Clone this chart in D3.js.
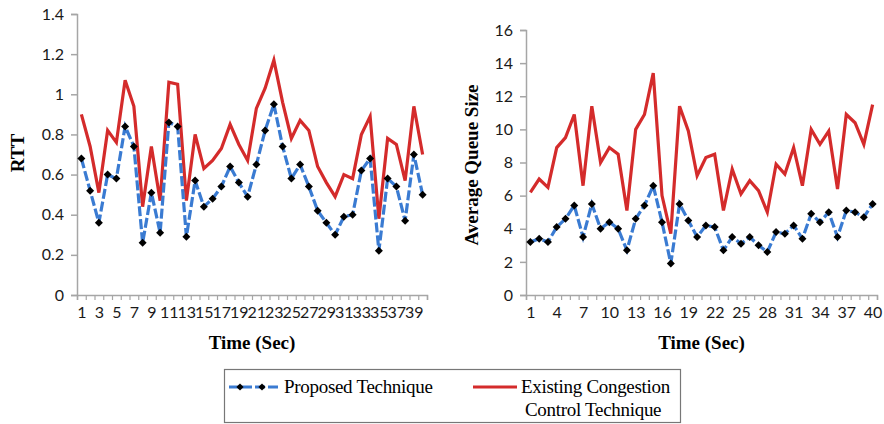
<!DOCTYPE html>
<html>
<head>
<meta charset="utf-8">
<script src="https://cdn.jsdelivr.net/npm/d3@7"></script>
<style>
    body { margin: 0; background: #fff; }
</style>
</head>
<body>
<div id="chart"></div>
<script>
// Dati
const times = d3.range(1, 41);
const rttProposed = [0.68, 0.52, 0.36, 0.60, 0.58, 0.84, 0.74, 0.26, 0.51, 0.31,
    0.86, 0.84, 0.29, 0.57, 0.44, 0.48, 0.54, 0.64, 0.56, 0.49,
    0.65, 0.82, 0.95, 0.74, 0.58, 0.65, 0.54, 0.42, 0.36, 0.30,
    0.39, 0.40, 0.62, 0.68, 0.22, 0.58, 0.54, 0.37, 0.70, 0.50];
const rttExisting = [0.90, 0.74, 0.51, 0.82, 0.76, 1.07, 0.94, 0.44, 0.74, 0.47,
    1.06, 1.05, 0.47, 0.80, 0.63, 0.67, 0.73, 0.85, 0.75, 0.67,
    0.93, 1.03, 1.17, 0.96, 0.78, 0.87, 0.82, 0.64, 0.56, 0.49,
    0.60, 0.58, 0.80, 0.89, 0.38, 0.78, 0.75, 0.57, 0.94, 0.70];
const queueProposed = [3.2, 3.4, 3.2, 4.1, 4.6, 5.4, 3.5, 5.5, 4.0, 4.4,
    4.0, 2.7, 4.6, 5.4, 6.6, 4.4, 1.9, 5.5, 4.5, 3.5,
    4.2, 4.1, 2.7, 3.5, 3.1, 3.5, 3.0, 2.6, 3.8, 3.7,
    4.2, 3.4, 4.9, 4.4, 5.0, 3.5, 5.1, 5.0, 4.7, 5.5];
const queueExisting = [6.2, 7.0, 6.5, 8.9, 9.5, 10.9, 6.6, 11.4, 8.0, 8.9,
    8.5, 5.1, 10.0, 10.9, 13.4, 6.0, 3.7, 11.4, 9.9, 7.2,
    8.3, 8.5, 5.1, 7.6, 6.1, 6.9, 6.3, 5.0, 7.9, 7.3,
    8.9, 6.6, 10.0, 9.1, 9.9, 6.4, 10.9, 10.4, 9.1, 11.5];
const rttTicks = [0, 0.2, 0.4, 0.6, 0.8, 1, 1.2, 1.4];
const queueTicks = [0, 2, 4, 6, 8, 10, 12, 14, 16];
const rttLabels = d3.range(1, 41, 2);
const queueLabels = d3.range(1, 41, 3);
const legendNames = ["Proposed Technique", "Existing Congestion", "Control Technique"];

const blue = "#3a7bd2", red = "#d42b2b", axisGrey = "#a6a6a6";
const tickFont = "Lato, 'Liberation Sans', sans-serif";
const serif = "'Liberation Serif', 'Times New Roman', serif";

const svg = d3.select("#chart")
    .append("svg")
    .attr("width", 884)
    .attr("height", 424);

function drawPanel(opt) {
    const x = d3.scaleLinear().domain([0.5, 40.5]).range([opt.left, opt.right]);
    const y = d3.scaleLinear().domain([0, opt.max]).range([295, opt.top]);
    const g = svg.append("g");

    // Asse y
    const yAxis = g.append("g")
        .attr("transform", `translate(${opt.left},0)`)
        .call(d3.axisLeft(y).tickValues(opt.yTicks).tickSize(6).tickPadding(7)
            .tickFormat(d => String(d)));
    yAxis.select(".domain").attr("stroke", axisGrey).attr("stroke-width", 1.5);
    yAxis.selectAll(".tick line").attr("stroke", axisGrey).attr("stroke-width", 1.5);
    yAxis.selectAll("text").style("font-family", tickFont).style("font-size", "16px")
        .attr("fill", "#1a1a1a");

    // Asse x: tacche tra le categorie, etichette al centro
    const xTicks = g.append("g")
        .attr("transform", "translate(0,295)")
        .call(d3.axisBottom(x).tickValues(d3.range(0.5, 41, 1)).tickSize(5).tickFormat(""));
    xTicks.select(".domain").attr("stroke", axisGrey).attr("stroke-width", 1.5);
    xTicks.selectAll(".tick line").attr("stroke", axisGrey).attr("stroke-width", 1.2);
    const xLab = g.append("g")
        .attr("transform", "translate(0,295)")
        .call(d3.axisBottom(x).tickValues(opt.xLabels).tickSize(0).tickPadding(12)
            .tickFormat(d3.format("d")));
    xLab.select(".domain").remove();
    xLab.selectAll("text").style("font-family", tickFont).style("font-size", "16px")
        .attr("fill", "#1a1a1a");

    // Serie esistente (rossa)
    const line = d3.line().x((d, i) => x(times[i])).y(d => y(d));
    g.append("path")
        .datum(opt.existing)
        .attr("d", line)
        .attr("fill", "none")
        .attr("stroke", red)
        .attr("stroke-width", 3.2);

    // Serie proposta (blu tratteggiata con rombi)
    g.append("path")
        .datum(opt.proposed)
        .attr("d", line)
        .attr("fill", "none")
        .attr("stroke", blue)
        .attr("stroke-width", 3.2)
        .attr("stroke-dasharray", "10,3");
    g.selectAll(".marker")
        .data(opt.proposed)
        .join("path")
        .attr("d", d3.symbol(d3.symbolSquare, 32))
        .attr("transform", (d, i) => `translate(${x(times[i])},${y(d)}) rotate(45)`)
        .attr("fill", "#000");

    // Titoli degli assi
    g.append("text")
        .attr("x", (opt.left + opt.right) / 2)
        .attr("y", 349)
        .attr("text-anchor", "middle")
        .style("font-family", serif)
        .style("font-weight", "bold")
        .style("font-size", "19px")
        .text("Time (Sec)");
    g.append("text")
        .attr("transform", `translate(${opt.titleX},${opt.titleY}) rotate(-90)`)
        .attr("text-anchor", "middle")
        .style("font-family", serif)
        .style("font-weight", "bold")
        .style("font-size", "19px")
        .text(opt.yTitle);
}

drawPanel({ left: 77, right: 427, top: 14, max: 1.4, yTicks: rttTicks, xLabels: rttLabels,
    proposed: rttProposed, existing: rttExisting, yTitle: "RTT", titleX: 24, titleY: 153 });
drawPanel({ left: 526, right: 877, top: 30, max: 16, yTicks: queueTicks, xLabels: queueLabels,
    proposed: queueProposed, existing: queueExisting, yTitle: "Average Queue Size", titleX: 478, titleY: 165 });

// Legenda
const legend = svg.append("g");
legend.append("rect")
    .attr("x", 224.5).attr("y", 369.5)
    .attr("width", 456).attr("height", 53)
    .attr("fill", "#fff")
    .attr("stroke", "#777")
    .attr("stroke-width", 1.2);
legend.append("line")
    .attr("x1", 229).attr("x2", 281).attr("y1", 387).attr("y2", 387)
    .attr("stroke", blue).attr("stroke-width", 3).attr("stroke-dasharray", "10,3");
legend.selectAll(".lm")
    .data([240, 262])
    .join("path")
    .attr("d", d3.symbol(d3.symbolSquare, 26))
    .attr("transform", d => `translate(${d},387) rotate(45)`)
    .attr("fill", "#000");
legend.append("line")
    .attr("x1", 473).attr("x2", 517).attr("y1", 387).attr("y2", 387)
    .attr("stroke", red).attr("stroke-width", 3);
legend.selectAll(".lt")
    .data([[284, 393, legendNames[0]], [521, 393, legendNames[1]], [525, 416, legendNames[2]]])
    .join("text")
    .attr("x", d => d[0])
    .attr("y", d => d[1])
    .style("font-family", serif)
    .style("font-size", "19px")
    .style("letter-spacing", "-0.3px")
    .text(d => d[2]);
</script>
</body>
</html>
